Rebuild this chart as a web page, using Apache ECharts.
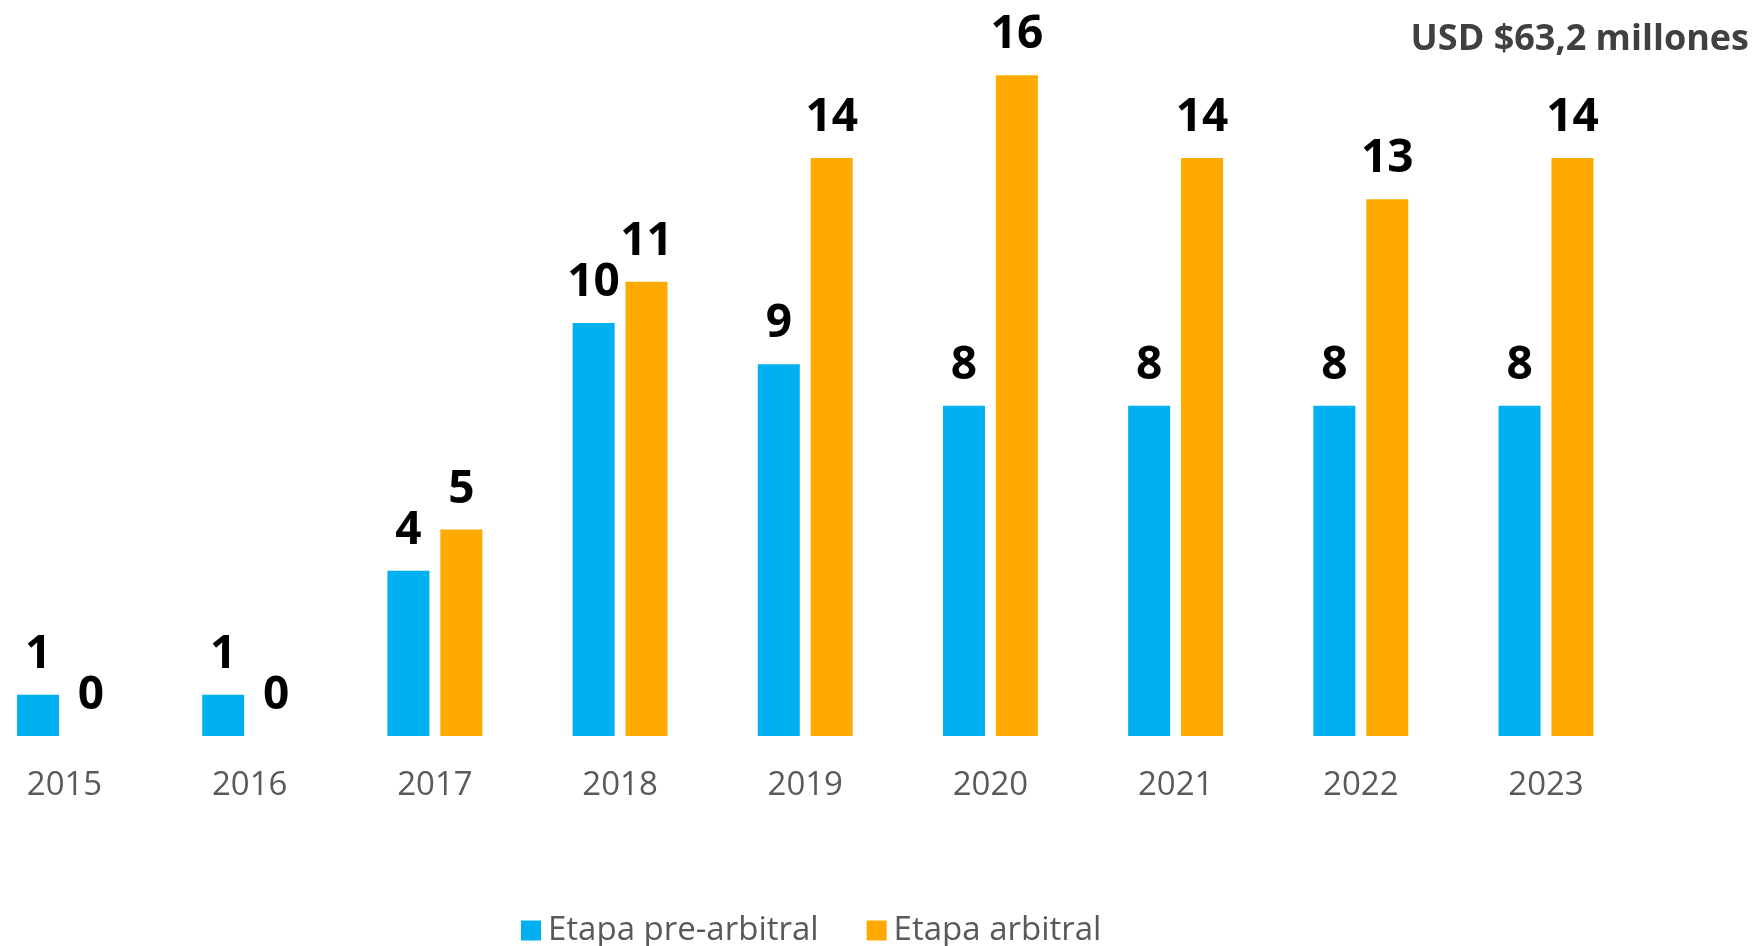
<!DOCTYPE html>
<html>
<head>
<meta charset="utf-8">
<script src="https://cdn.jsdelivr.net/npm/echarts@6/dist/echarts.min.js"></script>
<style>
  html, body { margin: 0; padding: 0; background: #fff; }
  #chart { width: 1760px; height: 946px; }
</style>
</head>
<body>
<div id="chart"></div>
<script>
const years = ['2015', '2016', '2017', '2018', '2019', '2020', '2021', '2022', '2023']
const preArbitral = [1, 1, 4, 10, 9, 8, 8, 8, 8]
const arbitral = [0, 0, 5, 11, 14, 16, 14, 13, 14]
const totalLabel = 'USD $63,2 millones'

const font = '"Open Sans", Lato, sans-serif'
const chart = echarts.init(document.getElementById('chart'))

const valueLabel = {
  show: true,
  position: 'top',
  distance: 17,
  color: '#000',
  fontFamily: font,
  fontWeight: 'bold',
  fontSize: 46,
}

chart.setOption({
  animation: false,
  title: {
    text: totalLabel,
    right: 6,
    top: 17,
    textStyle: { color: '#404040', fontFamily: font, fontWeight: 'bold', fontSize: 36 },
  },
  legend: {
    top: 909,
    left: 516,
    itemWidth: 20,
    itemHeight: 20,
    itemGap: 48,
    icon: 'rect',
    textStyle: { color: '#595959', fontFamily: font, fontSize: 33, padding: [0, 0, 0, 2] },
  },
  // category centres sit on the grid edges, so the first and last pairs line up
  grid: { left: 64.5, right: 214, top: 34, bottom: 210 },
  xAxis: {
    type: 'category',
    data: years,
    boundaryGap: false,
    axisLine: { show: false },
    axisTick: { show: false },
    axisLabel: { color: '#595959', fontFamily: font, fontSize: 33, margin: 33 },
  },
  yAxis: {
    type: 'value',
    min: 0,
    max: 17,
    show: false,
    splitLine: { show: false },
  },
  series: [
    {
      name: 'Etapa pre-arbitral',
      type: 'bar',
      data: preArbitral,
      barWidth: 42,
      barGap: '26%',
      itemStyle: { color: '#00B0F0' },
      label: valueLabel,
    },
    {
      name: 'Etapa arbitral',
      type: 'bar',
      data: arbitral,
      barWidth: 42,
      itemStyle: { color: '#FFAA00' },
      label: valueLabel,
    },
  ],
})
</script>
</body>
</html>
